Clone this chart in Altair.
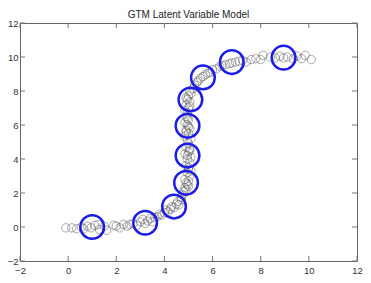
import altair as alt
import pandas as pd

data_x = [-0.1, 0.15, 0.35, 0.55, 0.65, 0.8, 0.95, 1.1, 1.25, 1.3, 1.5, 1.6, 1.9, 2.0, 2.15, 2.3, 2.45, 2.55, 2.7, 2.85,
          3.0, 3.1, 3.2, 3.3, 3.4, 3.5, 3.6, 3.7, 3.8, 3.9, 4.0, 4.05, 4.15, 4.25, 4.3, 4.4, 4.5, 4.55, 4.6, 4.7, 4.7, 4.75,
          4.8, 4.85, 4.9, 4.95, 5.0, 4.85, 5.05, 4.95, 5.1, 5.0, 4.9, 5.05, 4.95, 5.1, 4.85, 5.0, 5.05, 4.9, 5.0, 4.95,
          5.1, 4.85, 5.0, 4.9, 5.05, 4.95, 4.85, 5.0, 4.9, 4.95, 4.85, 5.0, 4.9, 5.05, 4.95, 5.0, 5.1, 5.05,
          4.9, 5.0, 4.95, 5.05, 4.9, 5.0, 4.95, 5.05, 4.9, 5.0,
          5.2, 5.25, 5.35, 5.4, 5.5, 5.6, 5.7, 5.8, 5.9, 6.0, 6.15, 6.3, 6.4, 6.55, 6.7, 6.8, 6.95, 7.1, 7.25, 7.4,
          7.6, 7.8, 8.0, 8.1, 8.4, 8.6, 8.8, 8.95, 9.1, 9.35, 9.5, 9.7, 9.85, 10.1]
data_y = [-0.05, -0.05, -0.1, 0.0, -0.1, 0.05, -0.05, 0.1, 0.15, -0.15, 0.05, -0.2, 0.1, 0.05, -0.05, 0.15, 0.05, 0.15, 0.2, 0.1,
          0.3, 0.45, 0.2, 0.35, 0.5, 0.3, 0.55, 0.6, 0.75, 0.7, 0.85, 1.0, 0.9, 1.05, 1.2, 1.15, 1.35, 1.5, 1.3, 1.6, 1.75, 1.9,
          2.1, 2.3, 2.2, 2.5, 2.7, 2.8, 3.0, 3.2, 3.3, 3.5, 3.6, 3.8, 4.0, 4.1, 4.3, 4.4, 4.6, 4.7, 4.9, 5.1,
          5.2, 5.35, 5.5, 5.7, 5.8, 6.0, 6.15, 6.3, 6.5, 6.7, 6.85, 7.0, 7.2, 7.35, 7.5, 7.7, 7.85, 8.0,
          2.6, 3.4, 4.2, 4.5, 5.6, 5.9, 6.4, 7.1, 7.6, 2.4,
          8.15, 8.35, 8.5, 8.6, 8.75, 8.85, 8.95, 9.05, 9.1, 9.25, 9.3, 9.45, 9.5, 9.55, 9.6, 9.65, 9.7, 9.75, 9.8, 9.7,
          9.85, 9.9, 9.85, 10.1, 10.0, 9.95, 10.05, 9.95, 10.0, 9.9, 10.05, 9.9, 10.1, 9.85]

latent_x = [1.0, 3.2, 4.4, 4.9, 4.96, 4.96, 5.08, 5.6, 6.8, 8.95]
latent_y = [0.0, 0.25, 1.2, 2.6, 4.2, 5.95, 7.5, 8.8, 9.7, 9.96]

tick_vals = [-2, 0, 2, 4, 6, 8, 10, 12]

df = pd.DataFrame({"x": data_x, "y": data_y})
dl = pd.DataFrame({"x": latent_x, "y": latent_y})
dt = pd.DataFrame({"t": tick_vals})

W, H = 337, 238
xs = alt.Scale(domain=[-2, 12], nice=False, zero=False)
ys = alt.Scale(domain=[-2, 12], nice=False, zero=False)

axis_x = alt.Axis(values=tick_vals, ticks=False, domain=False, grid=False, labelFontSize=9.5,
                  labelColor="#333333", labelFont="Liberation Sans", labelPadding=4, format="d",
                  labelOverlap=False, labelFlush=False, labelBound=False, title=None)
axis_y = alt.Axis(values=tick_vals, ticks=False, domain=False, grid=False, labelFontSize=9.5,
                  labelColor="#333333", labelFont="Liberation Sans", labelPadding=2, format="d",
                  labelOverlap=False, labelFlush=False, labelBound=False, title=None)

pts = alt.Chart(df).mark_point(shape="circle", size=70, filled=False, strokeWidth=0.6,
                               color="#444444", opacity=0.75).encode(
    x=alt.X("x:Q", scale=xs, axis=axis_x),
    y=alt.Y("y:Q", scale=ys, axis=axis_y),
)

lat = alt.Chart(dl).mark_point(shape="circle", size=560, filled=False, strokeWidth=2.5,
                               color="#1c1ce8", opacity=1).encode(
    x=alt.X("x:Q", scale=xs, axis=axis_x),
    y=alt.Y("y:Q", scale=ys, axis=axis_y),
)

tb = alt.Chart(dt).mark_rule(color="#777777", strokeWidth=1).encode(
    x=alt.X("t:Q", scale=xs, axis=axis_x), y=alt.value(H), y2=alt.value(H - 5))
tt = alt.Chart(dt).mark_rule(color="#777777", strokeWidth=1).encode(
    x=alt.X("t:Q", scale=xs, axis=axis_x), y=alt.value(0), y2=alt.value(5))
tl = alt.Chart(dt).mark_rule(color="#777777", strokeWidth=1).encode(
    y=alt.Y("t:Q", scale=ys, axis=axis_y), x=alt.value(0), x2=alt.value(5))
tr = alt.Chart(dt).mark_rule(color="#777777", strokeWidth=1).encode(
    y=alt.Y("t:Q", scale=ys, axis=axis_y), x=alt.value(W), x2=alt.value(W - 5))

chart = alt.layer(pts, tb, tt, tl, tr, lat).properties(
    width=W, height=H,
    title=alt.TitleParams("GTM Latent Variable Model", fontSize=10, fontWeight="normal",
                          font="Liberation Sans", color="#222222", offset=-2),
    autosize=alt.AutoSizeParams(type="none"),
    padding={"left": 12, "top": 15, "right": 6, "bottom": 14},
).configure_view(stroke="#666666", strokeWidth=1)

chart.save("out.html", embed_options={"renderer": "svg", "actions": False})
